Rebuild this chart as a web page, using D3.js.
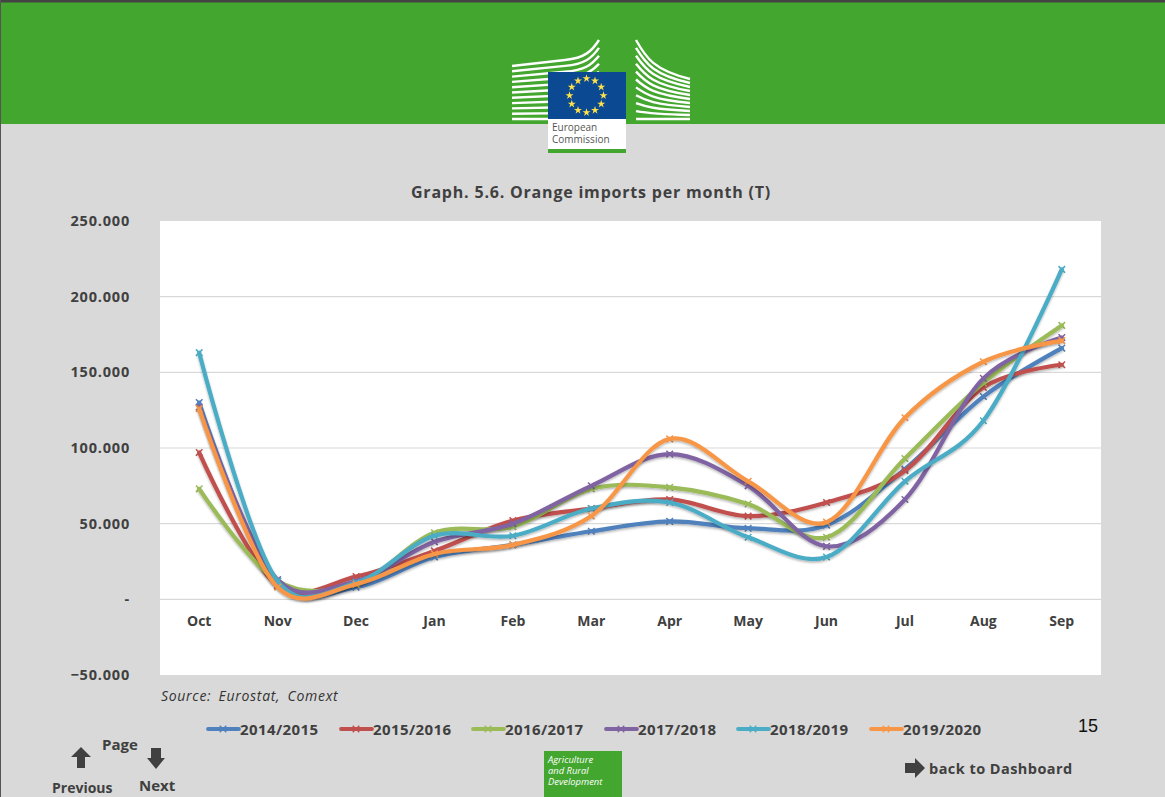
<!DOCTYPE html>
<html>
<head>
<meta charset="utf-8">
<script src="https://cdn.jsdelivr.net/npm/d3@7"></script>
<style>
    html, body { margin: 0; padding: 0; background: #d9d9d9; overflow: hidden; }
    text { font-family: "Open Sans", sans-serif; fill: #404040; font-weight: 700; }
</style>
</head>
<body>
<svg id="chart"></svg>
<script>
const months = ["Oct", "Nov", "Dec", "Jan", "Feb", "Mar", "Apr", "May", "Jun", "Jul", "Aug", "Sep"];
const seasons = ["2014/2015", "2015/2016", "2016/2017", "2017/2018", "2018/2019", "2019/2020"];
const colors = ["#4f81bd", "#c0504d", "#9bbb59", "#8064a2", "#4bacc6", "#f79646"];
const ticks = [-50000, 0, 50000, 100000, 150000, 200000, 250000];

const s2014 = [130000, 10000, 8000, 28000, 36000, 45000, 51500, 47000, 49000, 86000, 134000, 166000];
const s2015 = [97000, 9000, 15000, 32000, 52000, 60000, 66000, 55000, 64000, 85000, 140000, 155000];
const s2016 = [73000, 12000, 10000, 44000, 48000, 73000, 74000, 63000, 41000, 93000, 143000, 181000];
const s2017 = [127000, 13000, 12000, 38000, 50000, 75000, 96000, 75000, 35000, 66000, 146000, 173000];
const s2018 = [163000, 12000, 11000, 42000, 42000, 60000, 64000, 41000, 28000, 78000, 118000, 218000];
const s2019 = [126000, 8000, 10000, 30000, 36000, 55000, 106000, 78000, 51000, 120000, 157000, 171000];
const allSeries = [s2014, s2015, s2016, s2017, s2018, s2019];

const width = 1165, height = 797;
const svg = d3.select("#chart").attr("width", width).attr("height", height)
    .style("display", "block");

const defs = svg.append("defs");
const blur = defs.append("filter").attr("id", "soft")
    .attr("x", "-5%").attr("y", "-5%").attr("width", "110%").attr("height", "110%");
blur.append("feDropShadow").attr("dx", 0).attr("dy", 1.5).attr("stdDeviation", 1)
    .attr("flood-color", "#000").attr("flood-opacity", 0.3);

// page frame and header
svg.append("rect").attr("width", width).attr("height", height).attr("fill", "#d9d9d9");
svg.append("rect").attr("width", width).attr("height", 124).attr("fill", "#43a62e");
svg.append("rect").attr("width", width).attr("height", 2.5).attr("fill", "#444");
svg.append("rect").attr("width", 1).attr("height", height).attr("fill", "#555");

// logo, building slats
const logo = svg.append("g");
d3.range(11).forEach(i => {
    const t = i / 10, u = 1 - t;
    const yl = 66 + t * 53, y1 = 40 + t * 79;
    logo.append("path").attr("fill", "none").attr("stroke", "#fff").attr("stroke-width", 2.4)
        .attr("d", `M512,${yl} L565,${yl - 6 * u} C585,${yl - 8 * u} 592,${y1 + 11 * u} 599,${y1}`);
    const yr = 79 + t * 40;
    logo.append("path").attr("fill", "none").attr("stroke", "#fff").attr("stroke-width", 2.4)
        .attr("d", `M636,${y1} C646,${y1 + 18 * u} 654,${yr - 9 * u} 690,${yr}`);
});
logo.append("rect").attr("x", 548).attr("y", 72).attr("width", 78).attr("height", 81).attr("fill", "#fff");
logo.append("rect").attr("x", 548).attr("y", 72).attr("width", 78).attr("height", 47).attr("fill", "#0b4a92");
logo.append("rect").attr("x", 548).attr("y", 149).attr("width", 78).attr("height", 4).attr("fill", "#43a62e");
const star = d3.symbol().type(d3.symbolStar).size(20);
d3.range(12).forEach(i => {
    const a = i / 12 * 2 * Math.PI;
    logo.append("path").attr("d", star).attr("fill", "#ffe14a")
        .attr("transform", `translate(${586.5 + 17 * Math.sin(a)},${95.5 - 17 * Math.cos(a)})`);
});
logo.selectAll("text.logo").data(["European", "Commission"]).enter().append("text")
    .attr("x", 552).attr("y", (d, i) => 131 + i * 12)
    .style("font-size", "10px").style("font-weight", 400).style("fill", "#555")
    .text(d => d);

// title
svg.append("text").attr("x", 591).attr("y", 198).attr("text-anchor", "middle")
    .style("font-size", "16px").style("letter-spacing", "0.8px")
    .text("Graph. 5.6. Orange imports per month (T)");

// plot
const plot = { left: 160, right: 1101, top: 221, bottom: 675 };
svg.append("rect").attr("x", plot.left).attr("y", plot.top)
    .attr("width", plot.right - plot.left).attr("height", plot.bottom - plot.top).attr("fill", "#fff");

const x = d3.scaleBand().domain(months).range([plot.left, plot.right]);
const y = d3.scaleLinear().domain([-50000, 250000]).range([plot.bottom, plot.top]);
const fmt = d => d === 0 ? "-" : d3.format(",")(d).replace(/,/g, ".");

// gridlines
svg.append("g").selectAll("line").data(ticks.filter(d => d > -50000 && d < 250000)).enter().append("line")
    .attr("x1", plot.left).attr("x2", plot.right)
    .attr("y1", d => y(d)).attr("y2", d => y(d))
    .attr("stroke", "#d9d9d9").attr("stroke-width", 1.2);

// y labels
const yAxis = svg.append("g").attr("transform", `translate(130,0)`)
    .call(d3.axisLeft(y).tickValues(ticks).tickFormat(fmt).tickSize(0).tickPadding(0));
yAxis.select(".domain").remove();
yAxis.selectAll("text").style("font-size", "14.5px").style("letter-spacing", "0.8px")
    .style("font-family", "'Open Sans', sans-serif").style("fill", "#404040");

// x labels
const xAxis = svg.append("g").attr("transform", `translate(0,${y(0)})`)
    .call(d3.axisBottom(x).tickSize(0).tickPadding(13));
xAxis.select(".domain").remove();
xAxis.selectAll("text").attr("y", 17).style("font-size", "14px")
    .style("font-family", "'Open Sans', sans-serif").style("fill", "#404040");

// series
const line = d3.line()
    .x((d, i) => x(months[i]) + x.bandwidth() / 2)
    .y(d => y(d))
    .curve(d3.curveCatmullRom.alpha(0.12));
const cross = d3.symbol().type(d3.symbolX).size(30);

allSeries.forEach((values, k) => {
    const g = svg.append("g");
    g.selectAll("path.mark").data(values).enter().append("path")
        .attr("class", "mark")
        .attr("d", cross)
        .attr("transform", (d, i) => `translate(${x(months[i]) + x.bandwidth() / 2},${y(d)})`)
        .attr("fill", "none").attr("stroke", colors[k]).attr("stroke-width", 1.5);
    g.append("path").datum(values)
        .attr("d", line)
        .attr("fill", "none")
        .attr("stroke", colors[k])
        .attr("stroke-width", 4.2)
        .attr("stroke-linecap", "round")
        .attr("filter", "url(#soft)");
});

// source
svg.append("text").attr("x", 161).attr("y", 701)
    .style("font-size", "14px").style("font-style", "italic").style("font-weight", 400)
    .style("letter-spacing", "0.7px").style("word-spacing", "3px").style("fill", "#333")
    .text("Source: Eurostat, Comext");

// legend
const legendX = [208, 341, 473, 606, 738, 871];
const legend = svg.append("g").selectAll("g").data(seasons).enter().append("g")
    .attr("transform", (d, i) => `translate(${legendX[i]},729)`);
legend.append("line").attr("x1", 0).attr("x2", 31)
    .attr("stroke", (d, i) => colors[i]).attr("stroke-width", 3.8).attr("stroke-linecap", "round");
legend.append("path").attr("d", cross).attr("transform", "translate(15,0)")
    .attr("fill", "none").attr("stroke", (d, i) => colors[i]).attr("stroke-width", 1.3);
legend.append("text").attr("x", 32).attr("y", 6)
    .style("font-size", "15px").style("letter-spacing", "0.4px").text(d => d);

// page number
svg.append("text").attr("x", 1078).attr("y", 732)
    .style("font-family", "'Liberation Sans', sans-serif").style("font-size", "18px")
    .style("font-weight", 400).style("fill", "#111").text("15");

// navigation
const nav = svg.append("g");
nav.append("path").attr("fill", "#404040").attr("d", "M71,757 L81,747 L91,757 L85,757 L85,768 L77,768 L77,757 Z");
nav.append("path").attr("fill", "#404040").attr("d", "M147,758 L165,758 L156,769 Z M151,748 L161,748 L161,758 L151,758 Z");
nav.append("path").attr("fill", "#404040").attr("d", "M905,763 L915,763 L915,758 L925,768 L915,778 L915,773 L905,773 Z");
const labels = [["Page", 102, 750], ["Previous", 52, 793], ["Next", 139, 791], ["back to Dashboard", 929, 774]];
nav.selectAll("text").data(labels).enter().append("text")
    .attr("x", d => d[1]).attr("y", d => d[2])
    .style("font-size", (d, i) => i === 3 ? "14.5px" : i === 1 ? "14px" : "15px")
    .style("letter-spacing", (d, i) => i === 3 ? "0.45px" : "0")
    .text(d => d[0]);

// DG AGRI box
svg.append("rect").attr("x", 544).attr("y", 751).attr("width", 78).attr("height", 46).attr("fill", "#43a62e");
svg.selectAll("text.agri").data(["Agriculture", "and Rural", "Development"]).enter().append("text")
    .attr("x", 548).attr("y", (d, i) => 763 + i * 11)
    .style("font-size", "9.4px").style("font-style", "italic").style("font-weight", 400)
    .style("fill", "#fff").text(d => d);
</script>
</body>
</html>
